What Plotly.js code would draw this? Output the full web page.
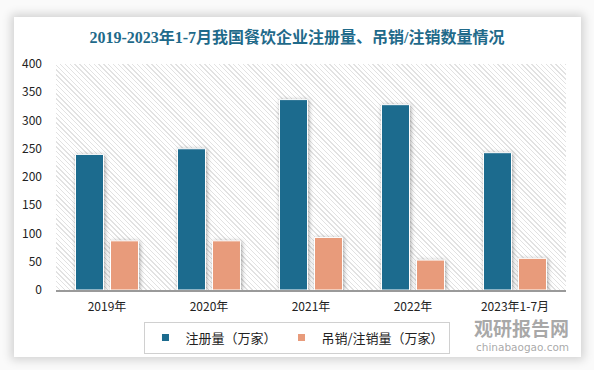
<!DOCTYPE html>
<html>
<head>
<meta charset="utf-8">
<script src="https://cdn.plot.ly/plotly-3.0.1.min.js"></script>
<style>
  html, body { margin: 0; padding: 0; background: #ffffff; }
  #wrap { position: relative; width: 594px; height: 370px; overflow: hidden; background: #fafafa; }
  #card { position: absolute; left: 14px; top: 17px; width: 567px; height: 340px; background: #ffffff;
          box-shadow: 0 0 9px 3px rgba(0,0,0,0.16); }
  #hatch { position: absolute; left: 56px; top: 64px; width: 510px; height: 226px;
           background: repeating-linear-gradient(45deg, #ffffff 0px, #ffffff 2.4px, #e2e2e2 2.4px, #e2e2e2 3.4px); }
  #chart { position: absolute; left: 0; top: 0; width: 594px; height: 370px; }
  #chart .bars path { filter: drop-shadow(1px 1px 2px rgba(0,0,0,0.35)); }
</style>
</head>
<body>
<div id="wrap">
  <div id="card"></div>
  <div id="hatch"></div>
  <div id="chart"></div>
</div>
<script>
const categories = ['2019年', '2020年', '2021年', '2022年', '2023年1-7月'];
const registered = [240, 250, 337, 328, 243];
const revoked = [87, 87, 93, 53, 56];
const seriesNames = ['注册量（万家）', '吊销/注销量（万家）'];
const colors = ['#1c6b8e', '#e89b7b'];
const yTicks = [0, 50, 100, 150, 200, 250, 300, 350, 400];

const font = '"Noto Sans CJK SC", "Noto Sans", sans-serif';

const traces = [
  { type: 'bar', x: categories, y: registered, name: seriesNames[0], showlegend: false,
    marker: { color: colors[0], line: { color: '#ffffff', width: 1 } }, hoverinfo: 'skip' },
  { type: 'bar', x: categories, y: revoked, name: seriesNames[1], showlegend: false,
    marker: { color: colors[1], line: { color: '#ffffff', width: 1 } }, hoverinfo: 'skip' },
  { type: 'scatter', mode: 'markers', x: [null], y: [null], name: seriesNames[0],
    marker: { symbol: 'square', size: 7, color: colors[0] } },
  { type: 'scatter', mode: 'markers', x: [null], y: [null], name: seriesNames[1],
    marker: { symbol: 'square', size: 7, color: colors[1] } }
];

const layout = {
  width: 594, height: 370,
  margin: { l: 56, r: 28, t: 64, b: 80 },
  paper_bgcolor: 'rgba(0,0,0,0)',
  plot_bgcolor: 'rgba(0,0,0,0)',
  barmode: 'group',
  bargap: 0.314,
  bargroupgap: 0.2,
  title: {
    text: '<b>2019-2023年1-7月我国餐饮企业注册量、吊销/注销数量情况</b>',
    font: { family: '"Liberation Serif", "Noto Sans CJK SC", serif', size: 16, color: '#1f6a8a' },
    x: 0.5, xanchor: 'center', y: 0.9, yref: 'container', yanchor: 'middle'
  },
  xaxis: {
    type: 'category',
    showgrid: false, zeroline: false,
    showline: true, linecolor: '#9a9a9a', linewidth: 1.5,
    ticks: '', ticklen: 0,
    ticklabelstandoff: 5,
    tickfont: { family: font, size: 12, color: '#222' },
    fixedrange: true
  },
  yaxis: {
    range: [0, 400],
    tickvals: yTicks,
    ticktext: yTicks.map(String),
    showgrid: false, zeroline: false, showline: false,
    ticks: '',
    ticklabelstandoff: 13,
    tickfont: { family: font, size: 12, color: '#222' },
    fixedrange: true
  },
  legend: {
    orientation: 'h',
    x: 0.4735, xanchor: 'center', xref: 'paper',
    y: 32.5 / 370, yref: 'container', yanchor: 'middle',
    bordercolor: '#d0d0d0', borderwidth: 1, bgcolor: '#ffffff',
    font: { family: font, size: 13, color: '#222' },
    itemwidth: 30
  },
  annotations: [
    { text: '<b>观研报告网</b>', xref: 'paper', yref: 'paper', x: 1.008, y: -0.168,
      xanchor: 'right', yanchor: 'middle', showarrow: false, borderpad: 0,
      font: { family: font, size: 19, color: 'rgba(140,140,140,0.75)' } },
    { text: 'chinabaogao.com', xref: 'paper', yref: 'paper', x: 1.008, y: -0.252,
      xanchor: 'right', yanchor: 'middle', showarrow: false, borderpad: 0,
      font: { family: '"DejaVu Sans", sans-serif', size: 10.5, color: 'rgba(140,140,140,0.75)' } }
  ]
};

Plotly.newPlot('chart', traces, layout, { displayModeBar: false, staticPlot: true });
</script>
</body>
</html>
